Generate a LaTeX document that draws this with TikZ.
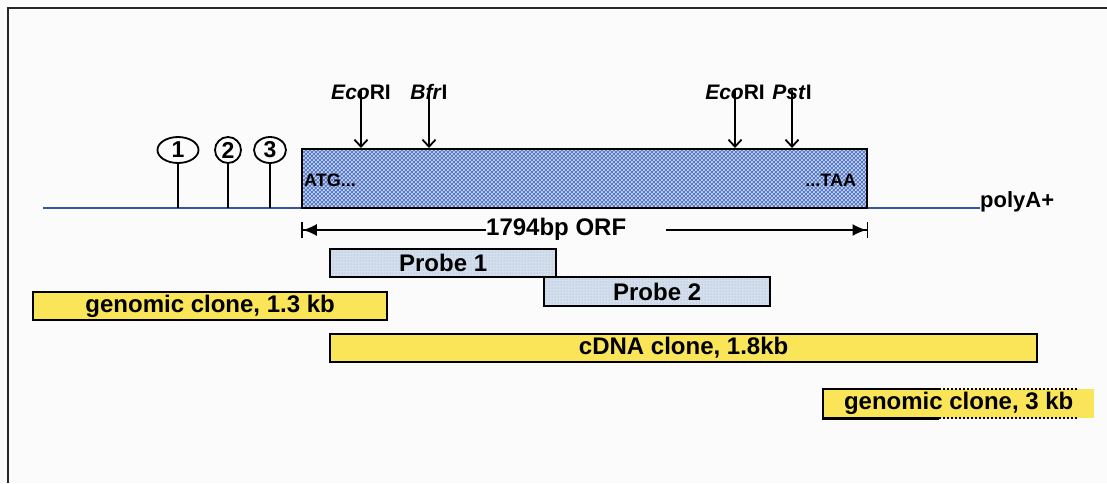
\documentclass[tikz,border=0pt]{standalone}
\usepackage{fontspec}
\setmainfont{Liberation Sans}
\usetikzlibrary{positioning,arrows.meta,calc,shapes.geometric,patterns}
\definecolor{orfblue}{RGB}{88,124,202}
\definecolor{probegray}{RGB}{212,223,237}
\definecolor{probedot}{RGB}{150,168,196}
\definecolor{clonegold}{RGB}{250,228,88}
\definecolor{lineblue}{RGB}{52,84,166}
\newcommand{\enz}[2]{\textit{#1}#2}
% white dot lattice of the ORF box
\pgfdeclarepatternformonly{hexdots}{\pgfqpoint{0pt}{0pt}}{\pgfqpoint{4.4pt}{4.4pt}}{\pgfqpoint{4.4pt}{4.4pt}}{%
  \pgfpathcircle{\pgfqpoint{1.1pt}{1.1pt}}{1.1pt}
  \pgfpathcircle{\pgfqpoint{3.3pt}{3.3pt}}{1.1pt}
  \pgfusepath{fill}}

\begin{document}
\begin{tikzpicture}[
  x=1pt,y=-1pt,
  >=Stealth,
  lbl/.style={font=\fontsize{21}{24}\selectfont\bfseries,inner sep=0pt},
  codon/.style={font=\fontsize{18}{21}\selectfont\bfseries,inner sep=0pt},
  boxlbl/.style={font=\fontsize{24}{28}\selectfont\bfseries},
  bar/.style={draw,line width=2.3pt,inner sep=0pt,anchor=north west},
  cut/.style={-{Straight Barb[length=7pt,width=13pt]},line width=1.8pt},
  dim/.style={-{Latex[length=14pt,width=12pt]Bar[width=16pt]},line width=1.8pt},
  site/.style={ellipse,draw,line width=1.8pt,inner sep=0pt,minimum height=26pt,
    font=\fontsize{23}{26}\selectfont\bfseries},
  stem/.style={line width=1.8pt}
]
\useasboundingbox[fill=gray!3] (0,0) rectangle (1107,483);
% frame
\draw[line width=2.4pt,black!85] (8,483) -- (8,8) -- (1107,8);
% mRNA line
\coordinate (ls) at (43,208);
\node[lbl,font=\fontsize{22}{26}\selectfont\bfseries,anchor=base west] (polya) at (980,207) {polyA+};
\draw[lineblue,line width=1.5pt] (ls) -- (ls -| polya.west);
% open reading frame
\node[bar,minimum width=565pt,minimum height=59pt,
  preaction={fill=orfblue},pattern=hexdots,pattern color=white] (orf) at (301,148) {};
\node[codon,anchor=west] (atg) at ($(orf.west)+(3,2)$) {ATG...};
\node[codon,anchor=east] (taa) at ($(orf.east)+(-12,2)$) {...TAA};
% restriction sites
\node[lbl] (eco1) at (361,92) {\enz{Eco}{RI}};
\node[lbl] (bfr) at (429,92) {\enz{Bfr}{I}};
\node[lbl] (eco2) at (735,92) {\enz{Eco}{RI}};
\node[lbl] (pst) at (792,92) {\enz{Pst}{I}};
\foreach \s in {eco1,bfr,eco2,pst}
  \draw[cut] ([yshift=10pt]\s.south) -- (\s.south |- orf.north);
% upstream sites 1-3
\node[site,minimum width=41pt] (s1) at (178,150) {1};
\node[site,minimum width=26pt] (s2) at (228,150) {2};
\node[site,minimum width=32pt] (s3) at (270,150) {3};
\foreach \s in {s1,s2,s3}
  \draw[stem] (\s.south) -- (\s.south |- ls);
% ORF length
\node[boxlbl,inner sep=0pt,anchor=west] (orflen) at (486,229) {1794bp ORF};
\coordinate (rs) at (666,230);
\draw[dim] (orflen.west |- rs) -- (rs -| orf.west);
\draw[dim] (rs) -- (rs -| orf.east);
% probes
\node[bar,minimum width=226pt,minimum height=28pt,preaction={fill=probegray},
  pattern=dots,pattern color=probedot] (p1) at (329,248) {};
\node[boxlbl] at (p1.center) {Probe 1};
\node[bar,minimum width=226pt,minimum height=29pt,preaction={fill=probegray},
  pattern=dots,pattern color=probedot] (p2) at (543,276) {};
\node[boxlbl] at (p2.center) {Probe 2};
% clones
\node[bar,fill=clonegold,minimum width=354pt,minimum height=28pt] (g1) at (32,291) {};
\node[boxlbl] at (g1.center) {genomic clone, 1.3 kb};
\node[bar,fill=clonegold,minimum width=707pt,minimum height=28pt] (cdna) at (329,333) {};
\node[boxlbl] at (cdna.center) {cDNA clone, 1.8kb};
\node[fill=clonegold,inner sep=0pt,anchor=north west,minimum width=271pt,minimum height=29pt] (g3) at (823,389) {};
\node[boxlbl] at (g3.center) {genomic clone, 3 kb};
\draw[line width=2.3pt] ($(g3.north west)+(116,0)$) -- (g3.north west) -- (g3.south west) -- ($(g3.south west)+(116,0)$);
\draw[line width=2pt,dash pattern=on 2pt off 2pt] ($(g3.north west)+(116,0)$) -- ($(g3.north west)+(254,0)$);
\draw[line width=2pt,dash pattern=on 2pt off 2pt] ($(g3.south west)+(116,0)$) -- ($(g3.south west)+(254,0)$);
\end{tikzpicture}
\end{document}
